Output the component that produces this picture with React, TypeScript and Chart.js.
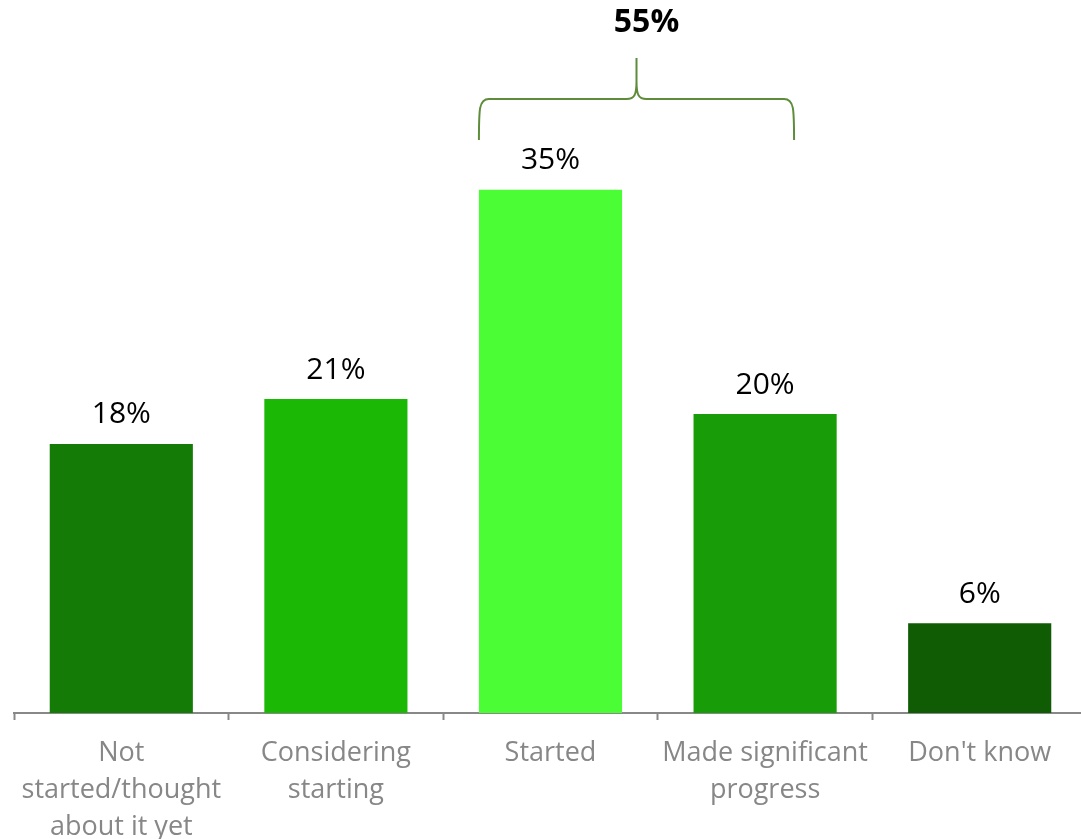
import React, { useEffect, useRef } from "react";
import { Chart, registerables } from "chart.js";

Chart.register(...registerables);

const categories: string[][] = [
  ["Not", "started/thought", "about it yet"],
  ["Considering", "starting"],
  ["Started"],
  ["Made significant", "progress"],
  ["Don't know"],
];
const values: number[] = [18, 21, 35, 20, 6];
const barColors: string[] = ["#147C06", "#1CB806", "#4BFD34", "#189C07", "#0F5C04"];
const bracketFrom = 2;
const bracketTo = 3;

const FONT = "'Open Sans', 'Noto Sans', sans-serif";

const overlayPlugin = {
  id: "overlay",
  afterDatasetsDraw(chart: any) {
    const ctx = chart.ctx;
    const meta = chart.getDatasetMeta(0);
    const xs = chart.scales.x;
    ctx.save();
    // value labels
    ctx.fillStyle = "#000";
    ctx.font = `30px ${FONT}`;
    ctx.textAlign = "center";
    ctx.textBaseline = "middle";
    meta.data.forEach((bar: any, i: number) => {
      ctx.fillText(`${values[i]}%`, bar.x, bar.y - 29);
    });
    // bracket
    const b0 = meta.data[bracketFrom];
    const b1 = meta.data[bracketTo];
    const left = b0.x - b0.width / 2;
    const step = xs.getPixelForValue(bracketTo) - xs.getPixelForValue(bracketFrom);
    const right = b1.x + step * 0.135;
    const mid = (left + right) / 2;
    const bottom = 140;
    const hy = 99;
    const top = 58;
    const r = 10;
    ctx.strokeStyle = "#5E8C3A";
    ctx.lineWidth = 2;
    ctx.lineCap = "butt";
    ctx.beginPath();
    ctx.moveTo(left, bottom);
    ctx.bezierCurveTo(left, hy + r, left, hy, left + r, hy);
    ctx.lineTo(mid - r, hy);
    ctx.bezierCurveTo(mid - 2, hy, mid, hy - 4, mid, hy - 18);
    ctx.lineTo(mid, top);
    ctx.moveTo(mid, hy - 18);
    ctx.bezierCurveTo(mid, hy - 4, mid + 2, hy, mid + r, hy);
    ctx.lineTo(right - r, hy);
    ctx.bezierCurveTo(right, hy, right, hy + r, right, bottom);
    ctx.stroke();
    // sum label
    const total = values.slice(bracketFrom, bracketTo + 1).reduce((a, b) => a + b, 0);
    ctx.font = `bold 32px ${FONT}`;
    ctx.fillText(`${total}%`, mid + 10, 23);
    ctx.restore();
  },
};

export default function App() {
  const ref = useRef<HTMLCanvasElement | null>(null);
  useEffect(() => {
    if (!ref.current) return;
    const chart = new Chart(ref.current, {
      type: "bar",
      data: {
        labels: categories,
        datasets: [
          {
            data: values,
            backgroundColor: barColors,
            barPercentage: 0.667,
            categoryPercentage: 1,
          },
        ],
      },
      options: {
        responsive: false,
        animation: false,
        layout: { padding: { top: 115, left: 14, right: 0, bottom: 0 } },
        plugins: { legend: { display: false }, tooltip: { enabled: false } },
        scales: {
          x: {
            grid: {
              display: true,
              drawOnChartArea: false,
              drawTicks: true,
              tickLength: 7,
              tickColor: "#888888",
              tickWidth: 2,
            },
            border: { display: true, color: "#888888", width: 2 },
            ticks: {
              color: "#878787",
              font: { family: FONT, size: 27, lineHeight: 1.37 },
              padding: 15,
              maxRotation: 0,
              autoSkip: false,
            },
            afterFit(scale: any) {
              scale.height = 126;
            },
          },
          y: {
            display: false,
            min: 0,
            max: 40,
          },
        },
      },
      plugins: [overlayPlugin],
    });
    return () => chart.destroy();
  }, []);
  return (
    <div style={{ position: "fixed", left: 0, top: 0, width: 1081, height: 839, overflow: "hidden", background: "#fff" }}>
      <canvas ref={ref} width={1087} height={839} style={{ display: "block" }} />
    </div>
  );
}
